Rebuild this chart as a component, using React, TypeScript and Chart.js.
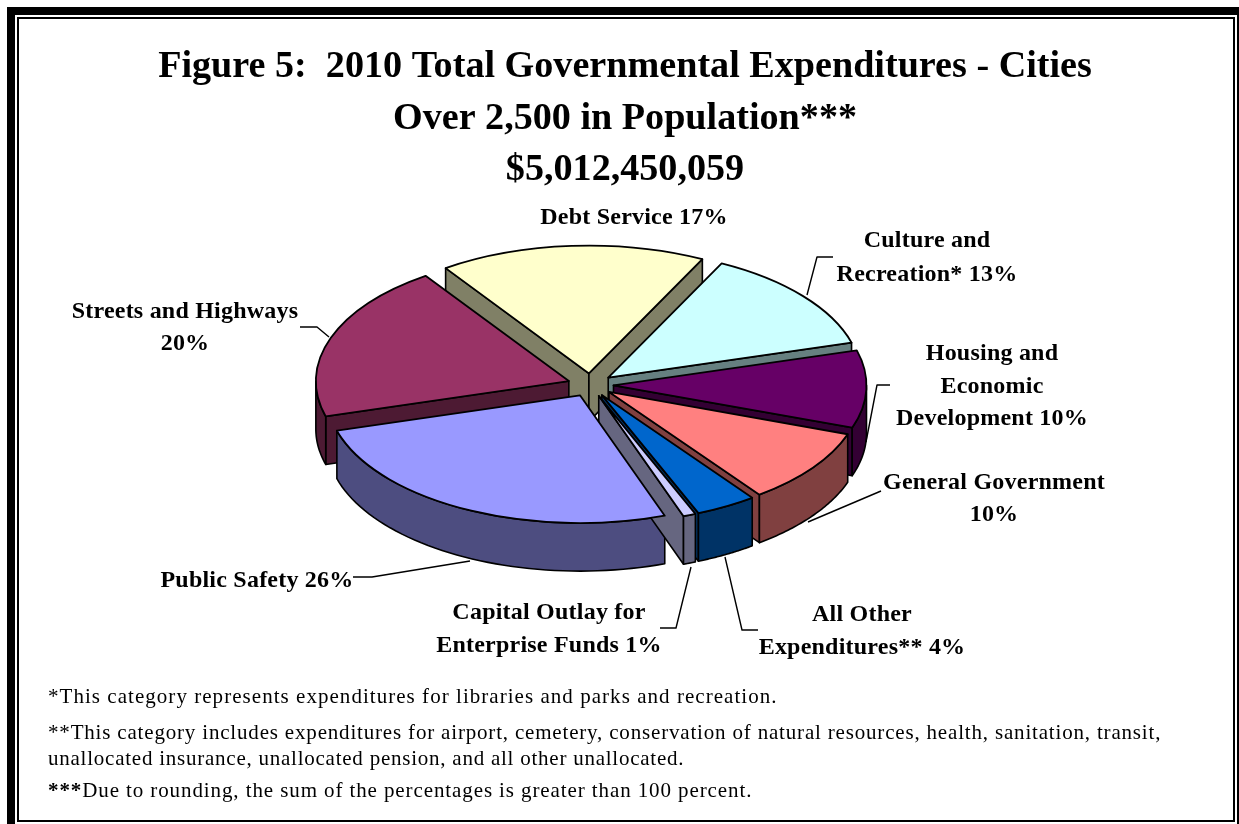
import React, { useEffect, useRef } from "react";
import { Chart, registerables } from "chart.js";

Chart.register(...registerables);

const categories = [
  "Debt Service",
  "Culture and Recreation*",
  "Housing and Economic Development",
  "General Government",
  "All Other Expenditures**",
  "Capital Outlay for Enterprise Funds",
  "Public Safety",
  "Streets and Highways",
];
const shares = [17.0, 13.2, 9.8, 9.5, 3.9, 0.8, 26.0, 19.9];
const topColors = ["#ffffcc", "#ccffff", "#660066", "#ff8080", "#0066cc", "#ccccff", "#9999ff", "#993366"];
const wallColors = ["#808066", "#668080", "#330033", "#804040", "#003366", "#666680", "#4d4d80", "#4d1a33"];
const titleLines = [
  "Figure 5:  2010 Total Governmental Expenditures - Cities",
  "Over 2,500 in Population***",
  "$5,012,450,059",
];
const footnotes = [
  { lead: "", text: "*This category represents expenditures for libraries and parks and recreation.", y: 703, spacing: 1.04 },
  { lead: "", text: "**This category includes expenditures for airport, cemetery, conservation of natural resources, health, sanitation, transit,", y: 739, spacing: 0.82 },
  { lead: "", text: "unallocated insurance, unallocated pension, and all other unallocated.", y: 765, spacing: 0.76 },
  { lead: "***", text: "Due to rounding, the sum of the percentages is greater than 100 percent.", y: 797, spacing: 0.9 },
];
const sliceLabels = [
  { lines: ["Debt Service 17%"], x: 634, y: [218] },
  { lines: ["Culture and", "Recreation* 13%"], x: 927, y: [241, 275] },
  { lines: ["Housing and", "Economic", "Development 10%"], x: 992, y: [354, 387, 419] },
  { lines: ["General Government", "10%"], x: 994, y: [483, 515] },
  { lines: ["All Other", "Expenditures** 4%"], x: 862, y: [615, 648] },
  { lines: ["Capital Outlay for", "Enterprise Funds 1%"], x: 549, y: [613, 646] },
  { lines: ["Public Safety 26%"], x: 257, y: [581] },
  { lines: ["Streets and Highways", "20%"], x: 185, y: [312, 344] },
];
const leaders = [
  [[833, 257], [817, 257], [807, 295]],
  [[890, 385], [877, 385], [866, 442]],
  [[881, 491], [808, 522]],
  [[725, 557], [742, 630], [758, 630]],
  [[691, 567], [676, 628], [660, 628]],
  [[353, 577], [372, 577], [470, 561]],
  [[300, 327], [317, 327], [329, 337]],
];

const CX = 590.5;
const CY = 385;
const SQUASH = 0.505;
const RADIUS = 253;
const EXPLODE = 23;
const DEPTH = 48;
const SERIF = "'Liberation Serif', serif";

function geometry(arc: any) {
  const mid = (arc.startAngle + arc.endAngle) / 2;
  return {
    cx: CX + Math.cos(mid) * EXPLODE,
    cy: CY + Math.sin(mid) * EXPLODE * SQUASH,
    r: arc.outerRadius,
    start: arc.startAngle,
    end: arc.endAngle,
    mid,
  };
}

function drawPoly(ctx: CanvasRenderingContext2D, pts: number[][], fill: string) {
  ctx.beginPath();
  pts.forEach((p, i) => (i ? ctx.lineTo(p[0], p[1]) : ctx.moveTo(p[0], p[1])));
  ctx.closePath();
  ctx.fillStyle = fill;
  ctx.fill();
  ctx.stroke();
}

const pie3d = {
  id: "pie3d",
  beforeDraw(chart: any) {
    const ctx = chart.ctx as CanvasRenderingContext2D;
    ctx.save();
    ctx.fillStyle = "#ffffff";
    ctx.fillRect(0, 0, chart.width, chart.height);
    ctx.fillStyle = "#000000";
    ctx.fillRect(7, 7, 1232, 8);
    ctx.fillRect(7, 7, 8, 817);
    ctx.fillRect(1237, 7, 2, 817);
    ctx.fillRect(17, 17, 1218, 2);
    ctx.fillRect(17, 17, 2, 805);
    ctx.fillRect(1233, 17, 2, 805);
    ctx.fillRect(17, 820, 1218, 2);
    ctx.restore();
  },
  beforeDatasetDraw(chart: any) {
    const ctx = chart.ctx as CanvasRenderingContext2D;
    const arcs = chart.getDatasetMeta(0).data as any[];
    ctx.save();
    ctx.strokeStyle = "#000000";
    ctx.lineWidth = 1.6;
    ctx.lineJoin = "round";
    const order = arcs
      .map((arc, i) => ({ g: geometry(arc), i }))
      .sort((a, b) => Math.sin(a.g.mid) - Math.sin(b.g.mid));
    for (const { g, i } of order) {
      const at = (a: number, dy = 0) => [
        g.cx + g.r * Math.cos(a),
        g.cy + g.r * SQUASH * Math.sin(a) + dy,
      ];
      const tip = [g.cx, g.cy];
      const tipLow = [g.cx, g.cy + DEPTH];
      if (-Math.cos(g.start) > 0) drawPoly(ctx, [tip, at(g.start), at(g.start, DEPTH), tipLow], wallColors[i]);
      if (Math.cos(g.end) > 0) drawPoly(ctx, [tip, at(g.end), at(g.end, DEPTH), tipLow], wallColors[i]);
      for (const k of [-1, 0, 1]) {
        const from = Math.max(g.start, k * 2 * Math.PI);
        const to = Math.min(g.end, k * 2 * Math.PI + Math.PI);
        if (to <= from) continue;
        const upper: number[][] = [];
        const lower: number[][] = [];
        const steps = 48;
        for (let s = 0; s <= steps; s++) {
          const a = from + ((to - from) * s) / steps;
          upper.push(at(a));
          lower.unshift(at(a, DEPTH));
        }
        drawPoly(ctx, upper.concat(lower), wallColors[i]);
      }
    }
    ctx.restore();
    for (const arc of arcs) {
      const g = geometry(arc);
      ctx.save();
      ctx.translate(g.cx, g.cy);
      ctx.scale(1, SQUASH);
      ctx.translate(-arc.x, -arc.y);
      arc.draw(ctx);
      ctx.restore();
    }
    return false;
  },
  afterDatasetsDraw(chart: any) {
    const ctx = chart.ctx as CanvasRenderingContext2D;
    const arcs = chart.getDatasetMeta(0).data as any[];
    ctx.save();
    ctx.strokeStyle = "#000000";
    ctx.lineWidth = 1.8;
    ctx.lineJoin = "round";
    for (const arc of arcs) {
      const g = geometry(arc);
      ctx.beginPath();
      ctx.moveTo(g.cx, g.cy);
      ctx.ellipse(g.cx, g.cy, g.r, g.r * SQUASH, 0, g.start, g.end);
      ctx.closePath();
      ctx.stroke();
    }
    ctx.lineWidth = 1.4;
    for (const line of leaders) {
      ctx.beginPath();
      line.forEach((p, i) => (i ? ctx.lineTo(p[0], p[1]) : ctx.moveTo(p[0], p[1])));
      ctx.stroke();
    }
    ctx.fillStyle = "#000000";
    ctx.textBaseline = "middle";
    ctx.textAlign = "center";
    ctx.font = `bold 24px ${SERIF}`;
    (ctx as any).letterSpacing = "0.22px";
    for (const label of sliceLabels) {
      label.lines.forEach((text, i) => ctx.fillText(text, label.x, label.y[i]));
    }
    ctx.textAlign = "left";
    ctx.textBaseline = "alphabetic";
    for (const note of footnotes) {
      (ctx as any).letterSpacing = `${note.spacing}px`;
      let x = 48;
      if (note.lead) {
        ctx.font = `bold 21px ${SERIF}`;
        ctx.fillText(note.lead, x, note.y);
        x += ctx.measureText(note.lead).width;
      }
      ctx.font = `21px ${SERIF}`;
      ctx.fillText(note.text, x, note.y);
    }
    ctx.restore();
  },
};

export default function App() {
  const ref = useRef<HTMLCanvasElement>(null);
  useEffect(() => {
    if (!ref.current) return;
    const chart = new Chart(ref.current, {
      type: "pie",
      plugins: [pie3d],
      data: {
        labels: categories,
        datasets: [
          {
            data: shares,
            backgroundColor: topColors,
            borderWidth: 0,
            offset: 0,
            clip: false,
            radius: RADIUS,
          } as any,
        ],
      },
      options: {
        responsive: false,
        animation: false,
        events: [],
        rotation: -34.5,
        layout: { padding: { left: 11, top: 0 } },
        plugins: {
          legend: { display: false },
          tooltip: { enabled: false },
          title: {
            display: true,
            text: titleLines,
            color: "#000000",
            font: { family: SERIF, size: 38.15, weight: "bold", lineHeight: 1.34 },
            padding: { top: 42, bottom: 0 },
          },
        },
      } as any,
    });
    return () => chart.destroy();
  }, []);
  return (
    <canvas
      ref={ref}
      width={1239}
      height={824}
      style={{ position: "fixed", left: 0, top: 0, display: "block" }}
    />
  );
}
